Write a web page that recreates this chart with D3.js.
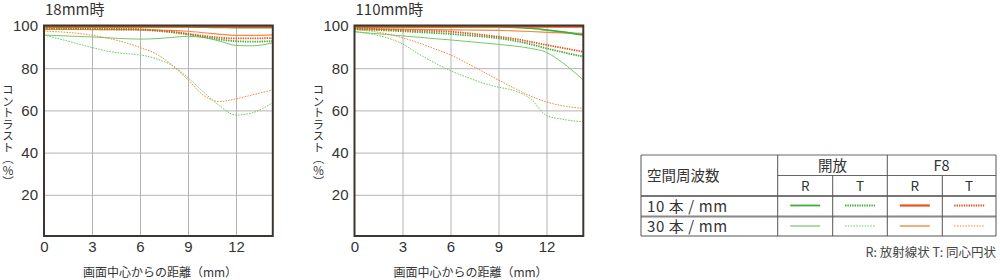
<!DOCTYPE html>
<html>
<head>
<meta charset="utf-8">
<script src="https://cdn.jsdelivr.net/npm/d3@7"></script>
<style>
  body { margin: 0; background: #fff; }
  svg { display: block; font-family: "Noto Sans CJK JP", "Noto Sans", sans-serif; }
</style>
</head>
<body>
<svg id="mtf" width="1000" height="280"></svg>
<script>
// distance from image centre (mm) where values were read
const DIST = [0, 1, 2, 3, 4, 5, 6, 7, 8, 9, 10, 11, 12, 13, 14.3];
const X_TICKS = [0, 3, 6, 9, 12];
const Y_TICKS = [20, 40, 60, 80, 100];

// 18mm
const W_OPEN_R10 = [99.6, 99.6, 99.6, 99.6, 99.6, 99.6, 99.6, 99.5, 99.5, 99.5, 99.4, 99.3, 99.2, 99.2, 99.2];
const W_OPEN_T10 = [98.6, 98.6, 98.5, 98.5, 98.4, 98.3, 98.2, 97.7, 97.0, 96.0, 94.8, 93.6, 92.8, 92.6, 92.8];
const W_F8_R10   = [99.8, 99.8, 99.8, 99.8, 99.8, 99.8, 99.8, 99.8, 99.8, 99.8, 99.8, 99.7, 99.7, 99.7, 99.7];
const W_F8_T10   = [99.0, 99.0, 98.9, 98.9, 98.8, 98.7, 98.5, 98.0, 97.3, 96.3, 95.3, 94.5, 94.1, 94.1, 94.3];
const W_OPEN_R30 = [95.7, 95.4, 95.1, 94.8, 94.4, 94.0, 93.8, 94.0, 94.6, 95.1, 94.5, 92.8, 90.8, 90.6, 92.0];
const W_OPEN_T30 = [95.7, 93.8, 91.8, 89.8, 88.0, 87.0, 86.3, 84.5, 81.3, 75.5, 68.5, 62.0, 57.8, 58.8, 63.7];
const W_F8_R30   = [98.4, 98.4, 98.4, 98.3, 98.3, 98.3, 98.2, 98.1, 97.9, 97.5, 96.8, 96.0, 95.6, 95.6, 95.8];
const W_F8_T30   = [97.6, 97.2, 96.6, 95.6, 94.2, 92.3, 89.8, 86.8, 81.5, 74.5, 67.0, 64.2, 65.5, 67.3, 69.7];

// 110mm
const T_OPEN_R10 = [99.6, 99.6, 99.6, 99.6, 99.6, 99.6, 99.6, 99.6, 99.5, 99.5, 99.3, 98.9, 98.1, 97.2, 95.7];
const T_OPEN_T10 = [98.4, 98.2, 97.9, 97.5, 97.1, 96.7, 96.2, 95.6, 95.0, 94.2, 93.0, 91.4, 89.4, 87.6, 85.5];
const T_F8_R10   = [99.8, 99.8, 99.8, 99.8, 99.8, 99.8, 99.8, 99.8, 99.8, 99.8, 99.8, 99.7, 99.7, 99.6, 99.6];
const T_F8_T10   = [98.9, 98.7, 98.4, 98.1, 97.8, 97.6, 97.3, 96.6, 95.8, 94.9, 93.9, 92.5, 91.0, 89.6, 87.8];
const T_OPEN_R30 = [97.3, 96.6, 96.0, 95.3, 94.7, 94.0, 93.4, 92.7, 92.0, 91.3, 90.5, 89.4, 87.5, 82.6, 74.4];
const T_OPEN_T30 = [97.3, 96.2, 94.5, 91.5, 86.8, 82.6, 78.8, 75.8, 73.0, 71.0, 69.3, 65.5, 57.6, 55.8, 54.6];
const T_F8_R30   = [98.6, 98.6, 98.5, 98.5, 98.4, 98.3, 98.2, 98.1, 98.0, 97.9, 97.7, 97.4, 97.0, 96.7, 96.5];
const T_F8_T30   = [98.4, 97.6, 96.3, 94.4, 92.0, 89.2, 86.3, 82.5, 78.5, 74.4, 70.5, 66.8, 64.0, 62.2, 61.0];

const CHART_TITLES = ["18mm時", "110mm時"];
const LEGEND_ROWS = ["10 本 / mm", "30 本 / mm"];

// line looks per key
const STYLE = {
  "open-R-30": { color: "#72c866", width: 1,   dash: null },
  "open-T-30": { color: "#72c866", width: 1,   dash: "1.6 1.2" },
  "f8-R-30":   { color: "#f08a45", width: 1.2, dash: null },
  "f8-T-30":   { color: "#f08a45", width: 1,   dash: "1.6 1.2" },
  "open-R-10": { color: "#3fae38", width: 1.6, dash: null },
  "open-T-10": { color: "#3fae38", width: 1.8, dash: "1.4 1" },
  "f8-R-10":   { color: "#e8531a", width: 2,   dash: null },
  "f8-T-10":   { color: "#e8531a", width: 1.8, dash: "1.4 1" }
};

const CHARTS = [
  { title: CHART_TITLES[0], left: 44, series: {
      "open-R-30": W_OPEN_R30, "open-T-30": W_OPEN_T30, "f8-R-30": W_F8_R30, "f8-T-30": W_F8_T30,
      "open-T-10": W_OPEN_T10, "f8-T-10": W_F8_T10, "open-R-10": W_OPEN_R10, "f8-R-10": W_F8_R10 } },
  { title: CHART_TITLES[1], left: 354.5, series: {
      "open-R-30": T_OPEN_R30, "open-T-30": T_OPEN_T30, "f8-R-30": T_F8_R30, "f8-T-30": T_F8_T30,
      "open-T-10": T_OPEN_T10, "f8-T-10": T_F8_T10, "open-R-10": T_OPEN_R10, "f8-R-10": T_F8_R10 } }
];

const svg = d3.select("#mtf");
const TXT = "#333";
const W = 228.8, TOP = 26, BOTTOM = 237;

CHARTS.forEach((c, ci) => {
  const x = d3.scaleLinear().domain([0, 14.3]).range([c.left, c.left + W]);
  const y = d3.scaleLinear().domain([0, 100]).range([BOTTOM, TOP]);
  const g = svg.append("g");

  g.append("text").attr("x", c.left + 1).attr("y", 15)
    .attr("font-size", 15).attr("fill", TXT).text(c.title);

  // grid
  g.append("g")
    .call(d3.axisLeft(y).tickValues(Y_TICKS.slice(0, -1)).tickSize(-W).tickFormat("")
    ).attr("transform", `translate(${c.left},0)`)
    .call(ax => { ax.select(".domain").remove(); ax.selectAll("line").attr("stroke", "#b4b4b4"); });
  g.append("g")
    .call(d3.axisBottom(x).tickValues(X_TICKS.slice(1)).tickSize(-(BOTTOM - TOP)).tickFormat(""))
    .attr("transform", `translate(0,${BOTTOM})`)
    .call(ax => { ax.select(".domain").remove(); ax.selectAll("line").attr("stroke", "#b4b4b4"); });

  // tick labels
  g.append("g").attr("transform", `translate(${c.left},0)`)
    .call(d3.axisLeft(y).tickValues(Y_TICKS).tickSize(0).tickPadding(6))
    .call(ax => ax.select(".domain").remove())
    .selectAll("text").attr("font-size", 15).attr("fill", TXT).attr("font-family", null);
  g.append("g").attr("transform", `translate(0,${BOTTOM})`)
    .call(d3.axisBottom(x).tickValues(X_TICKS).tickSize(0).tickPadding(4))
    .call(ax => ax.select(".domain").remove())
    .selectAll("text").attr("font-size", 15).attr("fill", TXT).attr("font-family", null);

  // axis titles
  g.append("text").attr("x", c.left + 116).attr("y", 277).attr("text-anchor", "middle")
    .attr("font-size", 12).attr("fill", TXT).text("画面中心からの距離（mm）");
  g.append("text").attr("x", c.left - 36).attr("y", 136).attr("text-anchor", "middle")
    .style("writing-mode", "vertical-rl").style("text-orientation", "mixed")
    .attr("font-size", 11.5).attr("fill", TXT).text("コントラスト（％）");

  // curves
  const clipId = "clip" + ci;
  svg.append("clipPath").attr("id", clipId).append("rect")
    .attr("x", c.left).attr("y", TOP - 1).attr("width", W).attr("height", BOTTOM - TOP + 1);
  const line = d3.line().x((d, i) => x(DIST[i])).y(d => y(d)).curve(d3.curveMonotoneX);
  const lines = g.append("g").attr("clip-path", `url(#${clipId})`);
  Object.entries(c.series).forEach(([key, vals]) => {
    const s = STYLE[key];
    lines.append("path").datum(vals)
      .attr("fill", "none").attr("stroke", s.color).attr("stroke-width", s.width)
      .attr("stroke-dasharray", s.dash).attr("d", line);
  });

  // frame
  g.append("rect").attr("x", c.left).attr("y", TOP - 0.5).attr("width", W).attr("height", BOTTOM - TOP - 0.5)
    .attr("fill", "none").attr("stroke", "#3e3532").attr("stroke-width", 2);
});

/* ── legend table ── */
const L = svg.append("g");
const colX = [641, 777.7, 832.7, 887.3, 942.3, 996];
const rowY = [155, 175.5, 196, 216.5, 236];
const hl = (x1, x2, yy, col, w) => L.append("line").attr("x1", x1).attr("x2", x2)
  .attr("y1", yy).attr("y2", yy).attr("stroke", col).attr("stroke-width", w);
const vl = (xx, y1, y2) => L.append("line").attr("x1", xx).attr("x2", xx)
  .attr("y1", y1).attr("y2", y2).attr("stroke", "#555").attr("stroke-width", 1);

hl(colX[0], colX[5], rowY[0], "#666", 1.2);
hl(colX[1], colX[5], rowY[1], "#666", 1);
hl(colX[0], colX[5], rowY[2], "#777", 1.8);
hl(colX[0], colX[5], rowY[3], "#888", 2.2);
hl(colX[0], colX[5], rowY[4], "#555", 1.2);
vl(colX[0], rowY[0], rowY[4]);
vl(colX[1], rowY[0], rowY[4]);
vl(colX[2], rowY[1], rowY[4]);
vl(colX[3], rowY[0], rowY[4]);
vl(colX[4], rowY[1], rowY[4]);
vl(colX[5], rowY[0], rowY[4]);

const lt = (xx, yy, str, size, anchor) => L.append("text").attr("x", xx).attr("y", yy)
  .attr("text-anchor", anchor || "middle").attr("font-size", size).attr("fill", TXT).text(str);
lt(647, 180.5, "空間周波数", 14.5, "start");
lt((colX[1] + colX[3]) / 2, 170.5, "開放", 14.5);
lt((colX[3] + colX[5]) / 2, 170.5, "F8", 14.5);
["R", "T", "R", "T"].forEach((t, i) => lt((colX[i + 1] + colX[i + 2]) / 2, 190.5, t, 13.5));
LEGEND_ROWS.forEach((t, i) => lt(647, 211.5 + i * 20.5, t, 15, "start").attr("letter-spacing", 0.6));

const legendKeys = [
  ["open-R-10", "open-T-10", "f8-R-10", "f8-T-10"],
  ["open-R-30", "open-T-30", "f8-R-30", "f8-T-30"]
];
legendKeys.forEach((row, ri) => row.forEach((k, ci) => {
  const s = STYLE[k];
  const cx = (colX[ci + 1] + colX[ci + 2]) / 2;
  const yy = ri === 0 ? 205.5 : 226;
  L.append("line").attr("x1", cx - 15).attr("x2", cx + 15).attr("y1", yy).attr("y2", yy)
    .attr("stroke", s.color).attr("stroke-width", s.width + 0.2).attr("stroke-dasharray", s.dash);
}));

lt(996, 257, "R: 放射線状  T: 同心円状", 12.5, "end").attr("fill", "#444");
</script>
</body>
</html>
